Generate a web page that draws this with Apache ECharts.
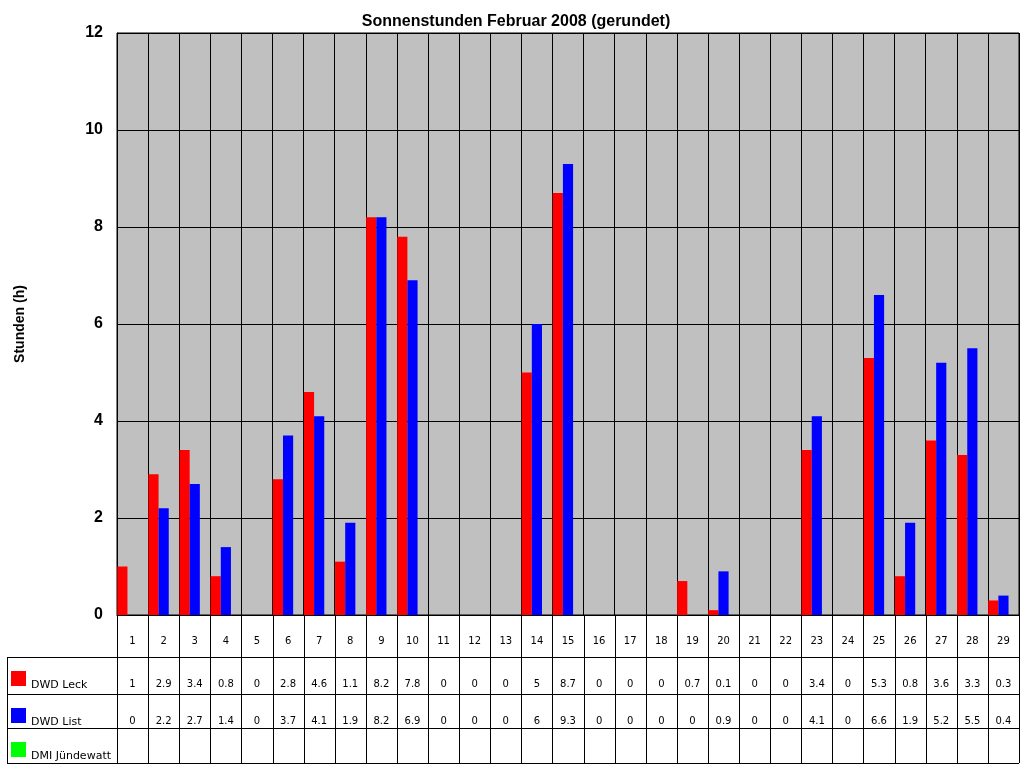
<!DOCTYPE html>
<html><head><meta charset="utf-8">
<script src="https://cdn.jsdelivr.net/npm/echarts@6/dist/echarts.min.js"></script>
<style>html,body{margin:0;background:#fff}#c{width:1024px;height:768px}</style>
</head><body><div id="c"></div>
<script>
const days = ['1','2','3','4','5','6','7','8','9','10','11','12','13','14','15','16','17','18','19','20','21','22','23','24','25','26','27','28','29'];
const leck = [1,2.9,3.4,0.8,0,2.8,4.6,1.1,8.2,7.8,0,0,0,5,8.7,0,0,0,0.7,0.1,0,0,3.4,0,5.3,0.8,3.6,3.3,0.3];
const list = [0,2.2,2.7,1.4,0,3.7,4.1,1.9,8.2,6.9,0,0,0,6,9.3,0,0,0,0,0.9,0,0,4.1,0,6.6,1.9,5.2,5.5,0.4];
const jude = days.map(() => null);
const seriesNames = ['DWD Leck','DWD List','DMI Jündewatt'];
const colors = ['#FF0000','#0000FF','#00FF00'];
const font = 'Liberation Sans, Arial, sans-serif';
const tfont = 'DejaVu Sans, sans-serif';

const chart = echarts.init(document.getElementById('c'));
const L=117,R=1019,T=33,B=615;
chart.setOption({
  animation:false,
  title:{text:'Sonnenstunden Februar 2008 (gerundet)',left:511,top:9,textAlign:'center',
    textStyle:{fontFamily:font,fontSize:16,fontWeight:'bold',color:'#000'}},
  grid:{left:L,right:1024-R,top:T,bottom:768-B,show:true,backgroundColor:'#C0C0C0',borderColor:'#000',borderWidth:1},
  xAxis:{type:'category',data:days,axisLabel:{show:false},axisTick:{show:false},
    axisLine:{lineStyle:{color:'#000'}},splitLine:{show:true,lineStyle:{color:'#000',width:1}}},
  yAxis:{type:'value',min:0,max:12,interval:2,name:'Stunden (h)',nameLocation:'middle',nameGap:90,
    nameTextStyle:{fontFamily:font,fontSize:14,fontWeight:'bold',color:'#000'},
    axisLabel:{fontFamily:font,fontSize:16,fontWeight:'bold',color:'#000',margin:14},
    axisLine:{show:true,lineStyle:{color:'#000'}},axisTick:{show:false},
    splitLine:{lineStyle:{color:'#000',width:1}}},
  series:[leck,list,jude].map((d,i)=>({type:'bar',name:seriesNames[i],data:d,
    itemStyle:{color:colors[i]},barGap:'0%',barCategoryGap:'2%'}))
});

// data table below the plot
const g=[];
const rows=[615,657,694,728,763];
const line=(x1,y1,x2,y2)=>g.push({type:'line',shape:{x1,y1,x2,y2},style:{stroke:'#000',lineWidth:1},silent:true});
const cw=(R-L)/days.length;
for(let i=0;i<=days.length;i++){ const x=Math.round(L+i*cw)+0.5; line(x,B,x,rows[4]); }
line(7.5,rows[1]+0.5,7.5,rows[4]);
for(let r=1;r<5;r++) line(7,rows[r]+0.5,R,rows[r]+0.5);
days.forEach((d,i)=>{
  const x=chart.convertToPixel({xAxisIndex:0},d);
  g.push({type:'text',x,y:641,style:{text:d,fontFamily:tfont,fontSize:10,fill:'#000',align:'center',verticalAlign:'middle'}});
  [leck,list].forEach((arr,k)=>{
    g.push({type:'text',x,y:rows[k+1]+27,style:{text:String(arr[i]),fontFamily:tfont,fontSize:10,fill:'#000',align:'center',verticalAlign:'middle'}});
  });
});
seriesNames.forEach((n,k)=>{
  const y=rows[k+1];
  g.push({type:'rect',shape:{x:11,y:y+14,width:15,height:15},style:{fill:colors[k]}});
  g.push({type:'text',x:31,y:y+28,style:{text:n,fontFamily:tfont,fontSize:11,fill:'#000',verticalAlign:'middle'}});
});
chart.setOption({graphic:g});
</script></body></html>
